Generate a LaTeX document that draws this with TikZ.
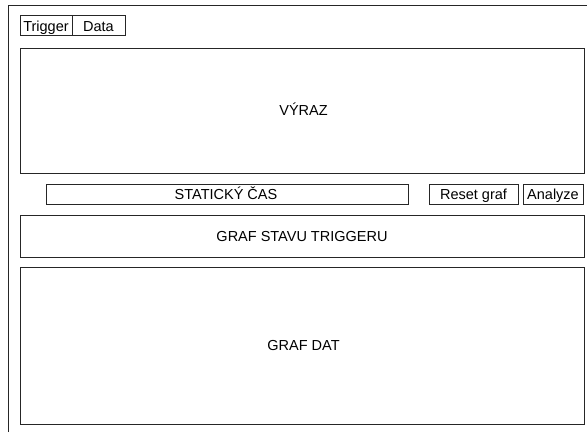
\documentclass[tikz,border=0pt]{standalone}
\usepackage{fontspec}
\setmainfont{Liberation Sans}
\begin{document}
\begin{tikzpicture}[x=1pt,y=-1pt,
  box/.style={draw=black!85,line width=0.9pt},
  lbl/.style={font=\fontsize{14.5}{16}\selectfont,text=black,anchor=base,inner sep=0pt}]
\useasboundingbox (0,0) rectangle (587,432);
\fill[white] (0,0) rectangle (587,432);
% outer frame (cropped at right and bottom)
\draw[black!85,line width=0.9pt] (8.5,432) -- (8.5,5.5) -- (587,5.5);
% tabs
\draw[box] (20,15) rectangle (72,35);
\node[lbl] (trig) at (46,31.5) {Trigger};
\draw[box] (72,15) rectangle (125,35);
\node[lbl] (data) at (98.5,31.5) {Data};
% main boxes
\draw[box] (20,48) rectangle (584,173);
\node[lbl] (vyraz) at (303.5,115) {VÝRAZ};
\draw[box] (46,184) rectangle (408.5,204);
\node[lbl] (cas) at (226,199.3) {STATICKÝ ČAS};
\draw[box] (429,184) rectangle (518,204);
\node[lbl] (reset) at (473.5,199.3) {Reset graf};
\draw[box] (523,184) rectangle (583,204);
\node[lbl] (anal) at (553,199.3) {Analyze};
\draw[box] (20,215) rectangle (584,257);
\node[lbl] (stav) at (302,241) {GRAF STAVU TRIGGERU};
\draw[box] (20,267) rectangle (584,424);
\node[lbl] (dat) at (303.5,350) {GRAF DAT};
\end{tikzpicture}
\end{document}
